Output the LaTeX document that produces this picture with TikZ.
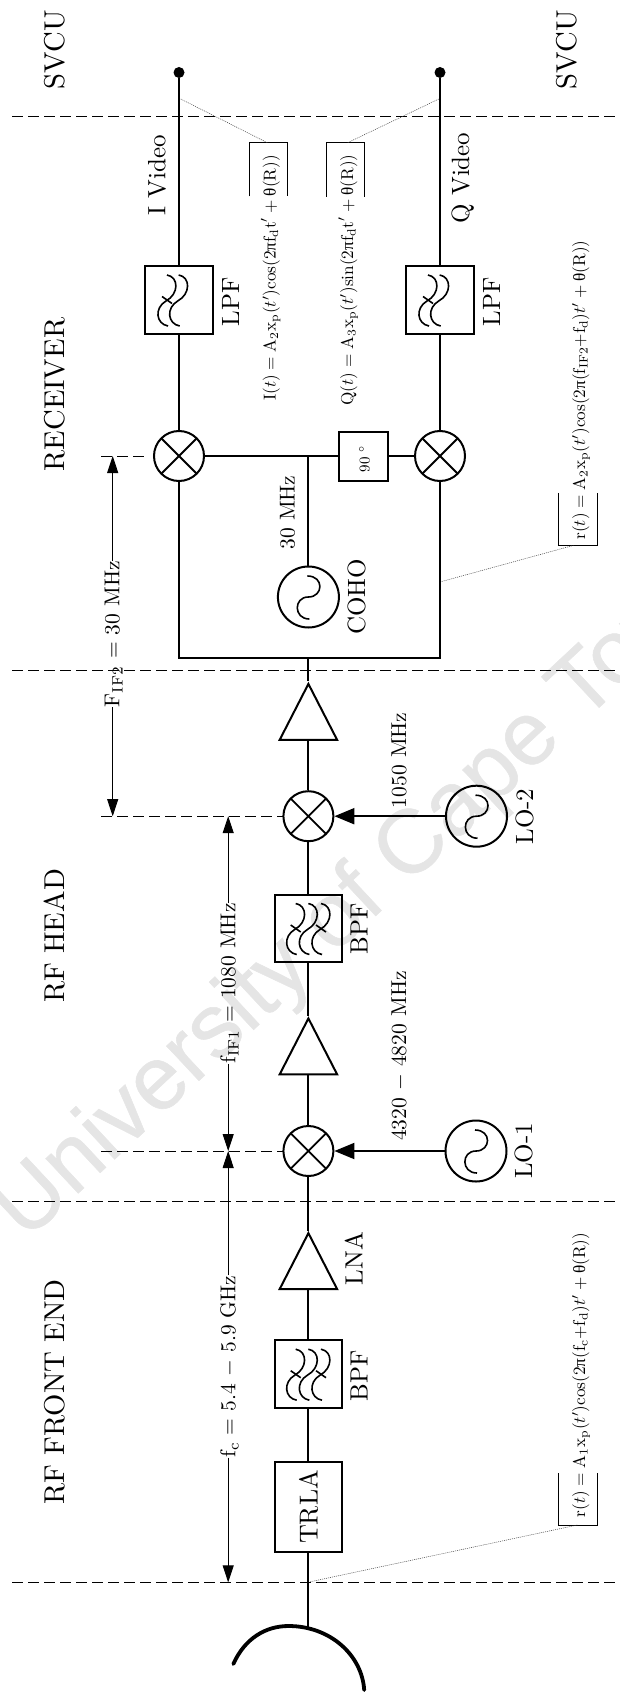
\documentclass[tikz,border=0pt]{standalone}
\usepackage{fontspec}
\usepackage{amsmath}
\usepackage{graphicx}
\usetikzlibrary{arrows.meta,shapes.geometric}
\newfontfamily\wmfont[FakeBold=0.6]{Liberation Sans}
\newfontfamily\grkfont{Liberation Serif}
\newcommand{\gk}[1]{\mbox{\grkfont #1}}
\newcommand{\headtext}[1]{\scalebox{2.87}{#1}}
\newcommand{\tagtext}[1]{\scalebox{2.5}{#1}}
\newcommand{\freqtext}[1]{\scalebox{2.15}{#1}}
\newcommand{\eqtext}[1]{\scalebox{1.72}{#1}}
\newcommand{\fcurve}[2]{\draw[glyph,shift={(#1,#2)}] (0,-25) .. controls (12,-23) and (12,-6) .. (-1,1) .. controls (-13,8) and (-11,24) .. (1,26);}
\newcommand{\ftick}[2]{\draw[glyph,shift={(#1,#2)}] (-5,-3.5) -- (5,3.5);}
\newcommand{\sinecurve}[2]{\draw[glyph,shift={(#1,#2)}] (-1,-21) .. controls (16,-21) and (15,0) .. (0,0) .. controls (-15,0) and (-15,22) .. (1,22);}
\tikzset{
  x=1pt,y=-1pt,
  wire/.style={line width=2pt},
  glyph/.style={line width=1.6pt},
  bound/.style={line width=0.9pt,dash pattern=on 11pt off 5pt},
  meas/.style={line width=0.9pt,-{Triangle[length=17pt,width=11pt]}},
  lodrive/.style={line width=2pt,-{Triangle[length=20pt,width=16pt]}},
  note/.style={dash pattern=on 1pt off 1pt,line width=0.5pt,black!75},
  brk/.style={line width=1pt,black},
  rtext/.style={rotate=90,anchor=base,inner sep=0pt},
  mixer/.style={circle,draw,line width=2pt,minimum size=50pt,inner sep=0pt,
    path picture={\draw[line width=1.8pt] (path picture bounding box.north west)--(path picture bounding box.south east)
      (path picture bounding box.north east)--(path picture bounding box.south west);}},
  osc/.style={circle,draw,line width=2pt,minimum size=61pt,inner sep=0pt},
  fbox/.style={rectangle,draw,line width=2pt,minimum width=67.5pt,minimum height=67.5pt,inner sep=0pt},
  amp/.style={isosceles triangle,isosceles triangle stretches,shape border rotate=90,draw,line width=2pt,
    minimum width=57.5pt,minimum height=56pt,inner sep=0pt,anchor=apex},
  dot/.style={circle,fill,minimum size=11pt,inner sep=0pt},
}
\begin{document}
\begin{tikzpicture}
\clip (0,0) rectangle (620,1693);
\path[use as bounding box] (0,0) rectangle (620,1693);
% watermark
\node[text=black!10,rotate=43,font=\wmfont\fontsize{90}{100}\selectfont,anchor=base west,inner sep=0pt] (wm) at (26,1242) {University of Cape Town};
% boundaries
\foreach \n/\yy in {a/116.8,b/670.2,c/1201.1,d/1582.4}{
  \coordinate (bl\n) at (12,\yy);
  \coordinate (br\n) at (620,\yy);
  \draw[bound] (bl\n) -- (br\n);
}
% headings
\node[rtext] (h1) at (64.5,49.6) {\headtext{SVCU}};
\node[rtext] (h2) at (576,49.6) {\headtext{SVCU}};
\node[rtext] (h3) at (64.5,394.6) {\headtext{RECEIVER}};
\node[rtext] (h4) at (64.5,936) {\headtext{RF HEAD}};
\node[rtext] (h5) at (64.5,1392) {\headtext{RF FRONT END}};
% terminals, filters
\node[dot] (dI) at (179,72.5) {};
\node[dot] (dQ) at (440,72.5) {};
\node[fbox] (lpfI) at (179,300) {};
\node[fbox] (lpfQ) at (440,300) {};
\fcurve{178.7}{300}\fcurve{167}{300}\ftick{167}{300}
\fcurve{439.7}{300}\fcurve{428}{300}\ftick{428}{300}
\node[mixer] (mI) at (179,456) {};
\node[mixer] (mQ) at (440,456) {};
\node[rectangle,draw,line width=2pt,minimum width=48.6pt,minimum height=49pt,inner sep=0pt] (ph) at (363.2,456) {};
\node[rtext] (phtxt) at (369.5,459) {\scalebox{1.5}{$90\ ^\circ$}};
\node[osc] (coho) at (308.4,597) {};
\sinecurve{308.4}{597}
\coordinate (jn) at (308.4,456);
\coordinate (rl) at (179,658);
\coordinate (rr) at (440,658);
\coordinate (rm) at (308.4,658);
\node[amp] (a3) at (308.4,681.3) {};
\node[mixer] (m2) at (308.4,816.2) {};
\node[osc] (lo2) at (476.5,816.2) {};
\sinecurve{476.5}{816.2}
\node[fbox] (bpf2) at (308.4,928.5) {};
\fcurve{308.4}{928.5}\fcurve{295.7}{928.5}\fcurve{321}{928.5}\ftick{295.7}{928.5}\ftick{321}{928.5}
\node[amp] (a2) at (308.4,1015.8) {};
\node[mixer] (m1) at (308.4,1151) {};
\node[osc] (lo1) at (476,1151) {};
\sinecurve{476}{1151}
\node[amp] (a1) at (308.4,1230.5) {};
\node[fbox] (bpf1) at (308.4,1374.2) {};
\fcurve{308.4}{1374.2}\fcurve{295.7}{1374.2}\fcurve{321}{1374.2}\ftick{295.7}{1374.2}\ftick{321}{1374.2}
\node[rectangle,draw,line width=2pt,minimum width=67.5pt,minimum height=90pt,inner sep=0pt] (trla) at (308.4,1507) {};
\node[rtext] (trlat) at (317.5,1507) {\scalebox{2.6}{TRLA}};
% dish
\coordinate (dishT) at (308.4,1628);
\draw[line width=3.8pt,line cap=round] (233.3,1664) .. controls (245,1638) and (266,1626) .. (288.6,1626) .. controls (330,1626) and (362,1655) .. (364.2,1690);
% wires
\draw[wire] (dI) -- (lpfI.north);
\draw[wire] (dQ) -- (lpfQ.north);
\draw[wire] (lpfI.south) -- (mI.north);
\draw[wire] (lpfQ.south) -- (mQ.north);
\draw[wire] (mI.east) -- (ph.west);
\draw[wire] (ph.east) -- (mQ.west);
\draw[wire] (jn) -- (coho.north);
\draw[wire] (mI.south) -- (rl) -- (rr) -- (mQ.south);
\draw[wire] (rm) -- (a3.apex);
\draw[wire] (a3.lower side) -- (m2.north);
\draw[wire] (m2.south) -- (bpf2.north);
\draw[wire] (bpf2.south) -- (a2.apex);
\draw[wire] (a2.lower side) -- (m1.north);
\draw[wire] (m1.south) -- (a1.apex);
\draw[wire] (a1.lower side) -- (bpf1.north);
\draw[wire] (bpf1.south) -- (trla.north);
\draw[wire] (trla.south) -- (dishT);
\draw[lodrive] (lo2.west) -- (m2.east);
\draw[lodrive] (lo1.west) -- (m1.east);
% labels
\node[rtext] (t1) at (165.3,175.5) {\tagtext{I Video}};
\node[rtext] (t2) at (469,178) {\tagtext{Q Video}};
\node[rtext] (t3) at (239.2,301.8) {\tagtext{LPF}};
\node[rtext] (t4) at (500.2,301.8) {\tagtext{LPF}};
\node[rtext] (t5) at (365,597) {\tagtext{COHO}};
\node[rtext] (t6) at (533,816.5) {\tagtext{LO-2}};
\node[rtext] (t7) at (367.7,928.7) {\tagtext{BPF}};
\node[rtext] (t8) at (532,1151) {\tagtext{LO-1}};
\node[rtext] (t9) at (362.6,1258.7) {\tagtext{LNA}};
\node[rtext] (t10) at (367.7,1375.6) {\tagtext{BPF}};
\node[rtext] (f1) at (294.6,512.5) {\freqtext{30 MHz}};
\node[rtext] (f2) at (406,760.3) {\freqtext{1050 MHz}};
\node[rtext] (f3) at (406,1056) {\freqtext{4320 $-$ 4820 MHz}};
% measures
\foreach \n/\xs/\xe/\yy in {u/101/148/456,v/101/283/816.2,w/101/283/1151}{
  \coordinate (ms\n) at (\xs,\yy);
  \coordinate (me\n) at (\xe,\yy);
  \draw[bound] (ms\n) -- (me\n);
}
\node[rtext] (lF) at (119.4,634) {\freqtext{$\mathrm{F_{IF2}}$ = 30 MHz}};
\node[rtext] (lI) at (235.3,983.5) {\freqtext{$\mathrm{f_{IF1}}$ = 1080 MHz}};
\node[rtext] (lC) at (235.3,1366.5) {\freqtext{$\mathrm{f_c}$ = 5.4 $-$ 5.9 GHz}};
\coordinate (p1) at (112.7,456);
\coordinate (p2) at (112.7,816.2);
\coordinate (p3) at (228.2,816.2);
\coordinate (p4) at (228.2,1151);
\coordinate (p5) at (228.2,1582.4);
\draw[meas] (p1 |- lF.east) -- (p1);
\draw[meas] (p2 |- lF.west) -- (p2);
\draw[meas] (p3 |- lI.east) -- (p3);
\draw[meas] (p4 |- lI.west) -- (p4);
\draw[meas] (p4 |- lC.east) -- (p4);
\draw[meas] (p5 |- lC.west) -- (p5);
% equations
\node[rtext] (e1) at (275.6,278) {\eqtext{$\mathrm{I}(t)=\mathrm{A_2x_p}(t')\mathrm{cos}(2\gk{π}\mathrm{f_dt}'+\gk{θ}(\mathrm{R}))$}};
\node[rtext] (e2) at (353,280) {\eqtext{$\mathrm{Q}(t)=\mathrm{A_3x_p}(t')\mathrm{sin}(2\gk{π}\mathrm{f_dt}'+\gk{θ}(\mathrm{R}))$}};
\node[rtext] (e3) at (585,390) {\eqtext{$\mathrm{r}(t)=\mathrm{A_2x_p}(t')\mathrm{cos}(2\gk{π}(\mathrm{f_{IF2}{+}f_d})t'+\gk{θ}(\mathrm{R}))$}};
\node[rtext] (e4) at (585,1375) {\eqtext{$\mathrm{r}(t)=\mathrm{A_1x_p}(t')\mathrm{cos}(2\gk{π}(\mathrm{f_c{+}f_d})t'+\gk{θ}(\mathrm{R}))$}};
% brackets
\draw[brk] (249.1,196.4) -- (249.1,142.9) -- (287.9,142.9) -- (287.9,196.4);
\draw[brk] (326.2,197) -- (326.2,142.9) -- (364.6,142.9) -- (364.6,197);
\draw[brk] (558.7,492.9) -- (558.7,545.4) -- (597,545.4) -- (597,492.9);
\draw[brk] (558.7,1473) -- (558.7,1525) -- (597,1525) -- (597,1473);
% leaders
\coordinate (n1a) at (180.7,99); \coordinate (n1b) at (267.7,142.9);
\coordinate (n2a) at (438.9,99); \coordinate (n2b) at (347.2,142.9);
\coordinate (n3a) at (441.7,581.5); \coordinate (n3b) at (573.4,545.4);
\coordinate (n4a) at (310.4,1581.7); \coordinate (n4b) at (577.3,1525);
\draw[note] (n1a) -- (n1b);
\draw[note] (n2a) -- (n2b);
\draw[note] (n3a) -- (n3b);
\draw[note] (n4a) -- (n4b);
\end{tikzpicture}
\end{document}
